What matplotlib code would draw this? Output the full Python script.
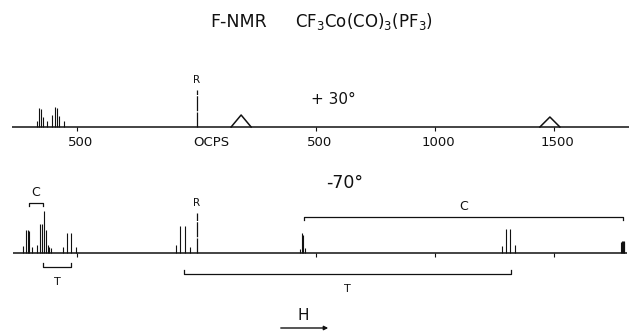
import matplotlib
matplotlib.use('Agg')
import matplotlib.pyplot as plt
import numpy as np

plt.rcParams.update({
    'font.family': 'DejaVu Sans',
    'mathtext.fontset': 'dejavusans',
})

INK = '#111111'

# shift scale, cps relative to OCPS reference
x_lim = (-825, 1815)
tick_pos = [-500, 0, 500, 1000, 1500]
tick_lab = ['500', 'OCPS', '500', '1000', '1500']

# +30 deg spectrum: sharp lines (cps, height) and two broad humps
top_pos = [-668, -660, -651, -643, -629, -605, -593, -584, -576, -557]
top_h = [6, 19, 18, 10, 6, 12, 20, 19, 11, 6]
hump_pos = [187, 1483]
hump_h = [12, 10]
hump_hw = 42
top_ref_h = 37

# -70 deg spectrum
bot_pos = [-727, -715, -708, -703, -692, -671, -657, -650, -640, -632, -624, -618, -612,
           -559, -545, -528, -506,
           -86, -69, -50, -27,
           434, 441, 448, 455,
           1281, 1298, 1316, 1337,
           1780, 1784, 1788, 1792, 1796]
bot_h = [7, 23, 23, 22, 6, 8, 29, 29, 42, 23, 8, 6, 5,
         6, 20, 20, 6,
         8, 27, 27, 6,
         4, 20, 18, 5,
         7, 24, 24, 8,
         11, 12, 12, 12, 11]
bot_ref_h = 40

# brackets: (start, end, label)
brk_up = [(-702, -646, 'C'), (451, 1791, 'C')]
brk_dn = [(-643, -528, 'T'), (-51, 1318, 'T')]

W, H = 629, 331
fig = plt.figure(figsize=(W / 100, H / 100), dpi=100)

def px_axes(top, bottom):
    return fig.add_axes([0, 1 - bottom / H, 1, (bottom - top) / H])

# ---- top spectrum (+30 deg) ----
ax1 = px_axes(60, 150)
ax1.set_xlim(*x_lim)
ax1.set_ylim(-23, 67)
ax1.axis('off')
ax1.plot([-776, x_lim[1]], [0, 0], color=INK, lw=1.1, solid_capstyle='butt')
ax1.vlines(top_pos, 0, top_h, color=INK, lw=0.8)
for p, h in zip(hump_pos, hump_h):
    ax1.plot([p - hump_hw, p, p + hump_hw], [0, h, 0], color=INK, lw=1.1)
ax1.plot([0, 0], [0, top_ref_h], color=INK, lw=0.9, ls=(0, (12, 1)))
ax1.text(0, top_ref_h + 10, 'R', ha='center', va='center', fontsize=7.5, color=INK)
ax1.vlines([t for t in tick_pos if t != 0], -4, 0, color=INK, lw=0.8)
for t, lab in zip(tick_pos, tick_lab):
    if lab == 'OCPS':
        ax1.text(t - 15, -16, lab, ha='left', va='center', fontsize=9.5, color=INK)
    else:
        ax1.text(t + 15, -16, lab, ha='center', va='center', fontsize=9.5, color=INK)
ax1.text(575, 27, '+ 30°', ha='center', va='center', fontsize=11, color=INK)

# ---- bottom spectrum (-70 deg) ----
ax2 = px_axes(180, 300)
ax2.set_xlim(*x_lim)
ax2.set_ylim(-47, 73)
ax2.axis('off')
ax2.plot([-771, 1805], [0, 0], color=INK, lw=1.1, solid_capstyle='butt')
ax2.vlines(bot_pos, 0, bot_h, color=INK, lw=0.8)
ax2.plot([0, 0], [0, bot_ref_h], color=INK, lw=0.9, ls=(0, (12, 1)))
ax2.text(0, bot_ref_h + 10, 'R', ha='center', va='center', fontsize=7.5, color=INK)
ax2.vlines([t for t in tick_pos if t != 0], -4, 0, color=INK, lw=0.8)

up_y = [50, 35.7]
for (a, b, lab), y in zip(brk_up, up_y):
    ax2.plot([a, a, b, b], [y - 3, y, y, y - 3], color=INK, lw=0.9)
    ax2.text((a + b) / 2, y + 11, lab, ha='center', va='center', fontsize=9, color=INK)
dn_y = [-13.7, -21]
for (a, b, lab), y in zip(brk_dn, dn_y):
    ax2.plot([a, a, b, b], [y + 4, y, y, y + 4], color=INK, lw=0.9)
    ax2.text((a + b) / 2, y - 15, lab, ha='center', va='center', fontsize=8, color=INK)
ax2.text(620, 70, '-70°', ha='center', va='center', fontsize=12.5, color=INK)

# ---- title and field arrow ----
fig.text(210 / W, 1 - 22 / H, 'F-NMR', ha='left', va='center', fontsize=12.5, color=INK)
fig.text(295 / W, 1 - 22 / H, r'CF$_3$Co(CO)$_3$(PF$_3$)',
         ha='left', va='center', fontsize=12, color=INK)
fig.text(303 / W, 1 - 316 / H, 'H', ha='center', va='center', fontsize=11, color=INK)
fig.add_artist(matplotlib.patches.FancyArrowPatch(
    (278 / W, 1 - 328 / H), (331 / W, 1 - 328 / H), transform=fig.transFigure,
    arrowstyle='-|>', mutation_scale=6, lw=1.0, color=INK))

fig.savefig('out.png', dpi=100)
